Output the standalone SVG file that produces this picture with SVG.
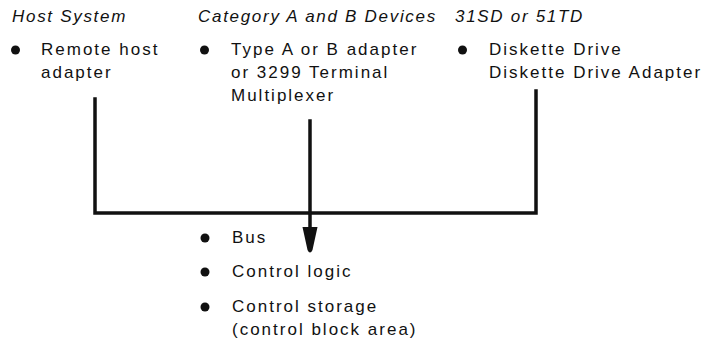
<svg xmlns="http://www.w3.org/2000/svg" width="706" height="352" viewBox="0 0 706 352">
<style>
  text { font-family: "Liberation Sans", Arial, sans-serif; font-size: 17px; letter-spacing: 2px; fill: #111; }
  .hdr { font-style: italic; letter-spacing: 1.7px; }
  .bul { fill: #111; }
  .ln { stroke: #111; stroke-width: 3.5; fill: none; stroke-linecap: square; }
</style>
<rect width="706" height="352" fill="#fff"/>
<g id="host-system">
  <text class="hdr" x="12" y="22">Host System</text>
  <circle class="bul" cx="15.5" cy="50" r="4.5"/>
  <text x="41" y="55">Remote host</text>
  <text x="41" y="78">adapter</text>
</g>
<g id="category-ab">
  <text class="hdr" x="198" y="22">Category A and B Devices</text>
  <circle class="bul" cx="204.5" cy="50" r="4.5"/>
  <text x="231" y="55">Type A or B adapter</text>
  <text x="231" y="78">or 3299 Terminal</text>
  <text x="231" y="101">Multiplexer</text>
</g>
<g id="diskette">
  <text class="hdr" x="455" y="22">31SD or 51TD</text>
  <circle class="bul" cx="462.5" cy="50" r="4.5"/>
  <text x="489" y="55">Diskette Drive</text>
  <text x="489" y="78">Diskette Drive Adapter</text>
</g>
<g id="controller">
  <circle class="bul" cx="205" cy="238" r="4.5"/>
  <text x="232" y="243">Bus</text>
  <circle class="bul" cx="205" cy="272" r="4.5"/>
  <text x="232" y="277">Control logic</text>
  <circle class="bul" cx="205" cy="307" r="4.5"/>
  <text x="232" y="312">Control storage</text>
  <text x="232" y="335">(control block area)</text>
</g>
<g id="connectors">
  <polyline class="ln" points="95,99 95,213 536,213 536,91"/>
  <line class="ln" x1="310" y1="121" x2="310" y2="240"/>
  <path d="M302.5,227 L317.5,227 L312.5,250 Q310,255 307.5,250 Z" fill="#111"/>
</g>
</svg>
